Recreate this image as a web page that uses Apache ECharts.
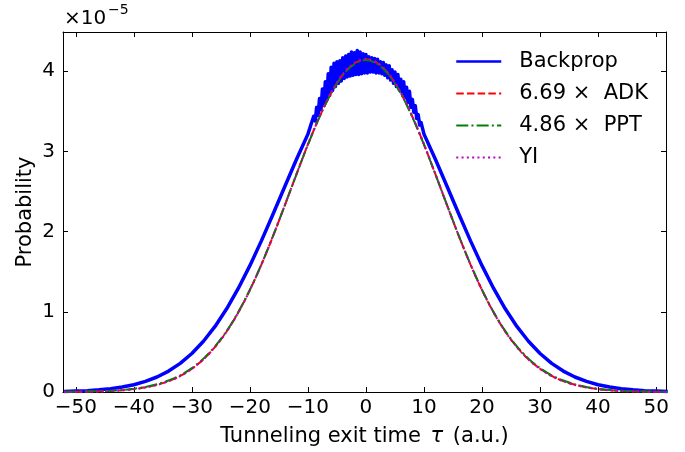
<!DOCTYPE html>
<html>
<head>
<meta charset="utf-8">
<script src="https://cdn.jsdelivr.net/npm/echarts@6/dist/echarts.min.js"></script>
<style>html,body{margin:0;padding:0;background:#fff}#c{width:685px;height:452px}</style>
</head>
<body>
<div id="c"></div>
<script>
// values in units of 1e-5
const tau = [-52,-50,-48,-46,-44,-42,-40,-38,-36,-34,-32,-30,-28,-26,-24,-22,-20,-18,-16,-14,-12,-10,-8,-6,-4,-2,0,2,4,6,8,10,12,14,16,18,20,22,24,26,28,30,32,34,36,38,40,42,44,46,48,50,52];
const backprop = [0.007,0.011,0.017,0.027,0.041,0.062,0.091,0.132,0.187,0.261,0.357,0.480,0.633,0.818,1.038,1.291,1.576,1.888,2.220,2.560,2.897,3.216,3.505,3.745,3.930,4.040,4.080,4.040,3.930,3.745,3.505,3.216,2.897,2.560,2.220,1.888,1.576,1.291,1.038,0.818,0.633,0.480,0.357,0.261,0.187,0.132,0.091,0.062,0.041,0.027,0.017,0.011,0.007];
const adk = [0.001,0.003,0.005,0.008,0.013,0.022,0.036,0.058,0.090,0.136,0.200,0.290,0.408,0.562,0.755,0.991,1.271,1.591,1.946,2.324,2.710,3.087,3.433,3.731,3.958,4.100,4.150,4.100,3.958,3.731,3.433,3.087,2.710,2.324,1.946,1.591,1.271,0.991,0.755,0.562,0.408,0.290,0.200,0.136,0.090,0.058,0.036,0.022,0.013,0.008,0.005,0.003,0.001];
const ppt = [0.002,0.004,0.007,0.011,0.016,0.025,0.040,0.063,0.096,0.143,0.208,0.298,0.416,0.570,0.762,0.997,1.276,1.594,1.948,2.325,2.709,3.084,3.428,3.725,3.951,4.090,4.140,4.090,3.951,3.725,3.428,3.084,2.709,2.325,1.948,1.594,1.276,0.997,0.762,0.570,0.416,0.298,0.208,0.143,0.096,0.063,0.040,0.025,0.016,0.011,0.007,0.004,0.002];
const yi = [0.001,0.002,0.004,0.007,0.012,0.021,0.035,0.056,0.088,0.134,0.198,0.288,0.406,0.560,0.753,0.990,1.270,1.590,1.946,2.325,2.712,3.090,3.437,3.736,3.962,4.104,4.153,4.104,3.962,3.736,3.437,3.090,2.712,2.325,1.946,1.590,1.270,0.990,0.753,0.560,0.406,0.288,0.198,0.134,0.088,0.056,0.035,0.021,0.012,0.007,0.004,0.002,0.001];
// noisy band of the Backprop curve near the peak (alternating high / low samples)
const peakTau = [-9.5,-9.25,-9,-8.75,-8.5,-8.25,-8,-7.75,-7.5,-7.25,-7,-6.75,-6.5,-6.25,-6,-5.75,-5.5,-5.25,-5,-4.75,-4.5,-4.25,-4,-3.75,-3.5,-3.25,-3,-2.75,-2.5,-2.25,-2,-1.75,-1.5,-1.25,-1,-0.75,-0.5,-0.25,0,0.25,0.5,0.75,1,1.25,1.5,1.75,2,2.25,2.5,2.75,3,3.25,3.5,3.75,4,4.25,4.5,4.75,5,5.25,5.5,5.75,6,6.25,6.5,6.75,7,7.25,7.5,7.75,8,8.25,8.5,8.75,9,9.25,9.5];
const peakNoisy = [3.33,3.31,3.44,3.38,3.55,3.45,3.66,3.52,3.78,3.58,3.87,3.64,3.97,3.70,4.05,3.76,4.10,3.81,4.12,3.85,4.13,3.88,4.17,3.91,4.19,3.93,4.21,3.94,4.24,3.95,4.23,3.96,4.26,3.96,4.24,3.97,4.22,3.98,4.21,3.98,4.18,3.99,4.17,3.99,4.16,3.98,4.15,3.98,4.12,3.97,4.11,3.95,4.08,3.92,4.07,3.89,4.02,3.85,3.99,3.81,3.96,3.77,3.90,3.73,3.87,3.67,3.80,3.61,3.75,3.55,3.65,3.49,3.57,3.41,3.46,3.33,3.36];
const xTicks = [-50,-40,-30,-20,-10,0,10,20,30,40,50];
const yTicks = [0,1,2,3,4];
const names = ['Backprop','6.69 ×  ADK','4.86 ×  PPT','YI'];

const pair = (xs, ys) => xs.map((x, i) => [x, ys[i]]);
const bpData = [];
tau.forEach((x, i) => { if (x <= -10) bpData.push([x, backprop[i]]); });
peakTau.forEach((x, i) => { bpData.push([x, peakNoisy[i]]); });
tau.forEach((x, i) => { if (x >= 10) bpData.push([x, backprop[i]]); });

const FONT = 'DejaVu Sans';
const minus = v => String(v).replace('-', '\u2212');
const XMIN = -52.2, XMAX = 51.7, YMIN = 0, YMAX = 4.49;
const tickIn = (vals) => ({show: true, inside: true, length: 5, lineStyle: {color: '#000', width: 1}, customValues: vals});

const chart = echarts.init(document.getElementById('c'), null, {renderer: 'canvas'});
chart.setOption({
  animation: false,
  backgroundColor: '#fff',
  textStyle: {fontFamily: FONT},
  grid: {left: 63, right: 19, top: 32, bottom: 59, containLabel: false},
  xAxis: [
    {type: 'value', min: XMIN, max: XMAX, position: 'bottom',
     axisLine: {show: true, onZero: false, lineStyle: {color: '#000', width: 1}},
     axisTick: tickIn(xTicks),
     axisLabel: {customValues: xTicks, formatter: minus, color: '#000', fontSize: 20, fontFamily: FONT, margin: 6},
     splitLine: {show: false},
     name: 'Tunneling exit time {i|τ} (a.u.)', nameLocation: 'middle', nameGap: 34,
     nameTextStyle: {color: '#000', fontSize: 21, fontFamily: FONT, rich: {i: {fontStyle: 'italic', fontSize: 21, fontFamily: FONT, color: '#000', padding: [0, 3, 0, 3]}}}},
    {type: 'value', min: XMIN, max: XMAX, position: 'top',
     axisLine: {show: true, onZero: false, lineStyle: {color: '#000', width: 1}},
     axisTick: tickIn(xTicks), axisLabel: {show: false}, splitLine: {show: false}}
  ],
  yAxis: [
    {type: 'value', min: YMIN, max: YMAX, position: 'left',
     axisLine: {show: true, onZero: false, lineStyle: {color: '#000', width: 1}},
     axisTick: tickIn(yTicks),
     axisLabel: {customValues: yTicks, color: '#000', fontSize: 20, fontFamily: FONT, margin: 8},
     splitLine: {show: false},
     name: 'Probability', nameLocation: 'middle', nameGap: 27, nameMoveOverlap: false,
     nameTextStyle: {color: '#000', fontSize: 21, fontFamily: FONT}},
    {type: 'value', min: YMIN, max: YMAX, position: 'right',
     axisLine: {show: true, onZero: false, lineStyle: {color: '#000', width: 1}},
     axisTick: tickIn(yTicks), axisLabel: {show: false}, splitLine: {show: false}}
  ],
  legend: {
    orient: 'vertical', left: 455, top: 51, padding: 0,
    itemWidth: 45, itemHeight: 14, itemGap: 11,
    itemStyle: {opacity: 0},
    textStyle: {fontSize: 21, fontFamily: FONT, color: '#000', lineHeight: 21, padding: [0, 0, 0, 13]},
    data: [
      {name: names[0], lineStyle: {width: 2.5}},
      {name: names[1]}, {name: names[2]}, {name: names[3]}
    ]
  },
  graphic: [
    {type: 'text', left: 64, top: 9, style: {text: '×10', font: '20px "DejaVu Sans"', fill: '#000'}},
    {type: 'text', left: 108, top: 3, style: {text: '\u22125', font: '14px "DejaVu Sans"', fill: '#000'}}
  ],
  series: [
    {name: names[0], type: 'line', data: bpData, showSymbol: false, symbol: 'none',
     lineStyle: {color: '#0000ff', width: 3.5, join: 'round'}, itemStyle: {color: '#0000ff'}, z: 2},
    {name: names[1], type: 'line', data: pair(tau, adk), showSymbol: false, symbol: 'none', smooth: 0.3,
     lineStyle: {color: '#ff0000', width: 2, type: [7.5, 3.2]}, itemStyle: {color: '#ff0000'}, z: 3},
    {name: names[2], type: 'line', data: pair(tau, ppt), showSymbol: false, symbol: 'none', smooth: 0.3,
     lineStyle: {color: '#008000', width: 2, type: [12, 3.2, 2, 3.2]}, itemStyle: {color: '#008000'}, z: 4},
    {name: names[3], type: 'line', data: pair(tau, yi), showSymbol: false, symbol: 'none', smooth: 0.3,
     lineStyle: {color: '#bf00bf', width: 2, type: [2, 3.3]}, itemStyle: {color: '#bf00bf'}, z: 5}
  ]
});
</script>
</body>
</html>
